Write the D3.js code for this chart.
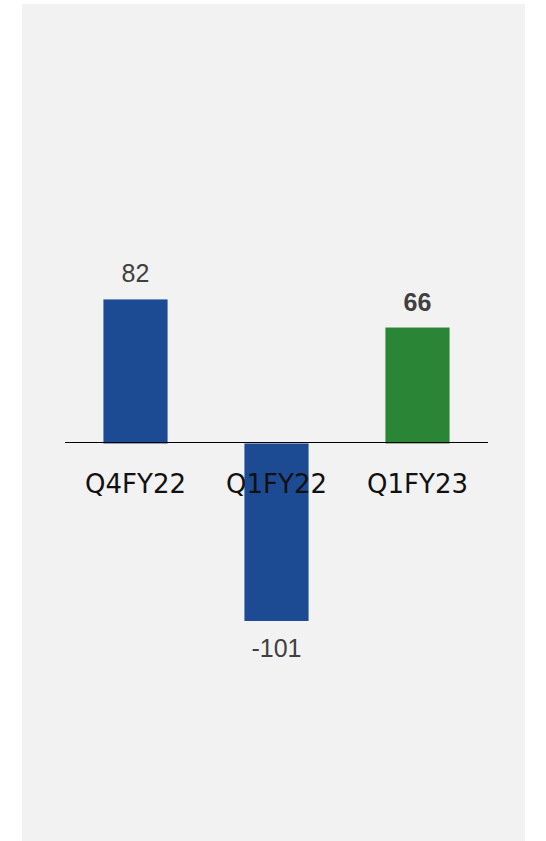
<!DOCTYPE html>
<html>
<head>
<meta charset="utf-8">
<script src="https://cdn.jsdelivr.net/npm/d3@7"></script>
<style>
  html, body { margin: 0; padding: 0; background: #ffffff; }
  svg { display: block; }
</style>
</head>
<body>
<script>
// Quarterly figures
const categories = ["Q4FY22", "Q1FY22", "Q1FY23"];
const values = [82, -101, 66];
const barColors = ["#1c4b94", "#1c4b94", "#2a8537"];
const boldLabel = [false, false, true];

const width = 546, height = 841;

const svg = d3.select("body").append("svg")
  .attr("width", width)
  .attr("height", height);

// Panel background
svg.append("rect")
  .attr("x", 22).attr("y", 4)
  .attr("width", 503).attr("height", height - 4)
  .attr("fill", "#f2f2f2");

const x = d3.scaleBand()
  .domain(categories)
  .range([65, 488])
  .paddingInner(0.545)
  .paddingOuter(0.2725);

const y = d3.scaleLinear()
  .domain([-140, 140])
  .range([689.5, 197.5]);

const y0 = y(0);

// Bars
svg.selectAll("rect.bar")
  .data(values)
  .join("rect")
  .attr("class", "bar")
  .attr("x", (d, i) => x(categories[i]))
  .attr("width", x.bandwidth())
  .attr("y", d => Math.min(y(d), y0))
  .attr("height", d => Math.abs(y(d) - y0))
  .attr("fill", (d, i) => barColors[i]);

// Zero line
svg.append("line")
  .attr("x1", 65).attr("x2", 488)
  .attr("y1", Math.floor(y0) - 0.5).attr("y2", Math.floor(y0) - 0.5)
  .attr("stroke", "#000")
  .attr("stroke-width", 1);

// Category labels below the zero line
svg.selectAll("text.cat")
  .data(categories)
  .join("text")
  .attr("class", "cat")
  .attr("x", d => x(d) + x.bandwidth() / 2)
  .attr("y", 493)
  .attr("text-anchor", "middle")
  .attr("font-family", "'DejaVu Sans', sans-serif")
  .attr("font-size", 26)
  .attr("fill", "#111")
  .text(d => d);

// Value labels
svg.selectAll("text.val")
  .data(values)
  .join("text")
  .attr("class", "val")
  .attr("x", (d, i) => x(categories[i]) + x.bandwidth() / 2)
  .attr("y", d => d >= 0 ? y(d) - 17 : y(d) + 36)
  .attr("text-anchor", "middle")
  .attr("font-family", "'Liberation Sans', Arial, sans-serif")
  .attr("font-size", 25)
  .attr("font-weight", (d, i) => boldLabel[i] ? "bold" : "normal")
  .attr("fill", "#404040")
  .text(d => d);
</script>
</body>
</html>
